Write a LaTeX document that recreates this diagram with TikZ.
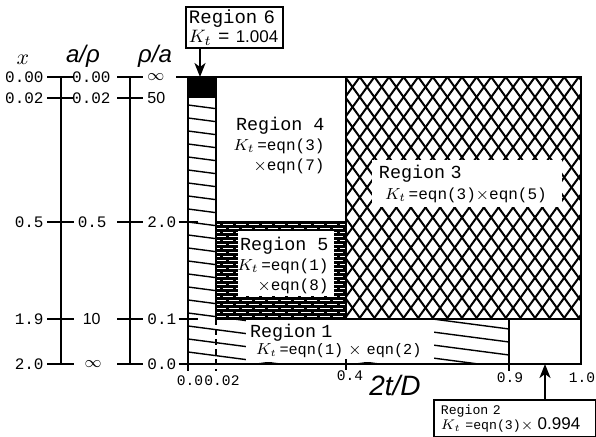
\documentclass[tikz,border=0pt]{standalone}
\usepackage{fontspec}
\setsansfont{Liberation Sans}
\setmonofont{Liberation Mono}
\usetikzlibrary{arrows.meta, positioning}
\newcommand{\regn}[1]{{\fontsize{9.2}{10}\selectfont Region #1}}
\tikzset{
  rlab/.style={font=\fontsize{8}{10}\selectfont\ttfamily, inner sep=1pt},
  axlab/.style={font=\fontsize{8}{9}\selectfont\ttfamily, inner sep=1pt},
  btlab/.style={font=\fontsize{7.3}{9}\selectfont\ttfamily, inner sep=1pt},
  hdlab/.style={font=\fontsize{12}{14}\selectfont\sffamily\itshape, inner sep=1pt},
  callout/.style={draw, line width=0.9pt, align=left, inner ysep=1pt},
  callarrow/.style={line width=1pt, -{Stealth[length=7pt, width=5.5pt, inset=2pt]}},
  frame/.style={line width=1pt},
  wall/.style={line width=0.8pt},
  axis/.style={line width=0.8pt},
  hatch/.style={line width=0.7pt},
  xhatch/.style={line width=1pt},
}

\begin{document}
\begin{tikzpicture}[x=0.5pt, y=-0.5pt]
  \useasboundingbox (0,0) rectangle (596,437);
  % region 6
  \fill (188,77) rectangle (216,98);
  % region 1
  \begin{scope}
    \clip (188,98) -- (216,98) -- (216,319) -- (509,319) -- (509,364) -- (188,364) -- cycle;
    \foreach \b in {92,105,...,380}
      \draw[hatch] (188,\b) -- (509,\b+42);
  \end{scope}
  % region 3
  \begin{scope}
    \clip (346,77) rectangle (581,319);
    \foreach \a in {170,184.6,...,760} {
      \draw[xhatch] (\a,77) -- ++(176,242);
      \draw[xhatch] (\a,77) -- ++(-176,242);
    }
  \end{scope}
  % region 5
  \fill (216,222) rectangle (346,319);
  \foreach \y [count=\i, evaluate=\i as \ph using {mod(\i,2)*3}] in {224.5,228.5,...,318}
    \draw[white, line width=0.7pt, dash pattern=on 5pt off 1.5pt, dash phase=\ph pt] (216,\y) -- (346,\y);
  \fill[white] (238,231) rectangle (334,296);

  \node[rlab, align=right] (r4) at (279,146) {\regn{4}\\$K_t$\,=eqn(3)\\$\times$eqn(7)};
  \node[rlab, align=right] (r5) at (283,266) {\regn{5}\\$K_t$\,=eqn(1)\\$\times$eqn(8)};
  \node[rlab, font=\fontsize{8}{10.5}\selectfont\ttfamily, fill=white, text width=88pt,
        inner xsep=3.5pt, minimum height=23.5pt, align=left] (r3) at (467,184)
       {\regn{3}\\\hspace*{3pt}$K_t$\,=eqn(3)$\times$eqn(5)};
  \node[rlab, font=\fontsize{7.6}{8.5}\selectfont\ttfamily, fill=white, text width=90pt,
        inner xsep=2pt, minimum height=21pt, align=left] (r1) at (340,341)
       {\regn{1}\\\hspace*{3pt}$K_t$\,=eqn(1) $\times$ eqn(2)};

  \draw[wall] (216,77) -- (216,319) (346,77) -- (346,319) (216,222) -- (346,222) (216,319) -- (581,319);
  \draw[wall, fill=white] (509,319) rectangle (581,364);
  \draw[frame] (188,77) rectangle (581,364);

  % callouts
  \node[callout, font=\fontsize{9.5}{9.5}\selectfont\ttfamily, text width=45.5pt,
        inner xsep=1.5pt, minimum height=20.5pt] (r6) at (234.5,27.5)
       {Region 6\\$K_t$ = {\sffamily\fontsize{8.5}{9.5}\selectfont 1.004}};
  \node[callout, font=\fontsize{6.6}{7.5}\selectfont\ttfamily, text width=74pt,
        inner xsep=3.5pt, minimum height=18.5pt, anchor=north west] (r2) at (433,399)
       {Region 2\\$K_t$ =eqn(3)$\times$ {\sffamily\fontsize{8.5}{7.5}\selectfont 0.994}};
  \coordinate (r6tip) at (200,77);
  \coordinate (r2tip) at (545,364);
  \draw[callarrow] (r6.south -| r6tip) -- (r6tip);
  \draw[callarrow] (r2.north -| r2tip) -- (r2tip);

  % left scales
  \draw[axis] (61,77) -- (61,364);
  \draw[axis] (130,77) -- (130,364);
  \foreach \y in {77,98,222,319,364} {
    \draw[axis] (47,\y) -- (74,\y);
    \draw[axis] (117,\y) -- (143,\y);
  }
  \foreach \y/\t [count=\i] in {77/0.00, 98/0.02, 222/0.5, 319/1.9, 364/2.0}
    \node[axlab, anchor=east] (xv\i) at (46,\y) {\t};
  \node[axlab, anchor=east] (av1) at (113,77) {0.00};
  \node[axlab, anchor=east] (av2) at (113,98) {0.02};
  \node[axlab, anchor=east] (av3) at (109,222) {0.5};
  \node[axlab, anchor=east, font=\fontsize{8}{9}\selectfont\sffamily] (av4) at (103,319) {10};
  \node[axlab, anchor=east] (av5) at (104,364) {$\infty$};
  \node[axlab, anchor=west] (pv1) at (145,77) {$\infty$};
  \node[axlab, anchor=west, font=\fontsize{8}{9}\selectfont\sffamily] (pv2) at (145,98) {50};
  \node[axlab, anchor=west] (pv3) at (145,222) {2.0};
  \node[axlab, anchor=west] (pv4) at (145,319) {0.1};
  \node[axlab, anchor=west] (pv5) at (145,364) {0.0};
  \draw[axis] (176,77) -- (188,77);
  \draw[axis] (pv3.east) -- (198,222);
  \draw[axis] (pv4.east) -- (198,319);
  \draw[axis] (pv5.east) -- (188,364);
  \node[font=\fontsize{11}{12}\selectfont] (hx) at (23,60) {$x$};
  \node[hdlab] (ha) at (83,56) {a/ρ};
  \node[hdlab] (hp) at (155,56) {ρ/a};

  % bottom scale
  \draw[axis] (188,364) -- (188,371);
  \draw[axis, dash pattern=on 3pt off 2pt] (216,319) -- (216,371);
  \draw[axis] (346,359) -- (346,370);
  \draw[axis] (509,364) -- (509,371);
  \node[btlab] (t0) at (190,381) {0.0};
  \node[btlab] (t1) at (222,381) {0.02};
  \node[btlab] (t2) at (350,376) {0.4};
  \node[btlab] (t3) at (510,378) {0.9};
  \node[btlab] (t4) at (582,378) {1.0};
  \node[font=\fontsize{14}{16}\selectfont\sffamily\itshape] (tl) at (395,385) {2t/D};
\end{tikzpicture}
\end{document}
